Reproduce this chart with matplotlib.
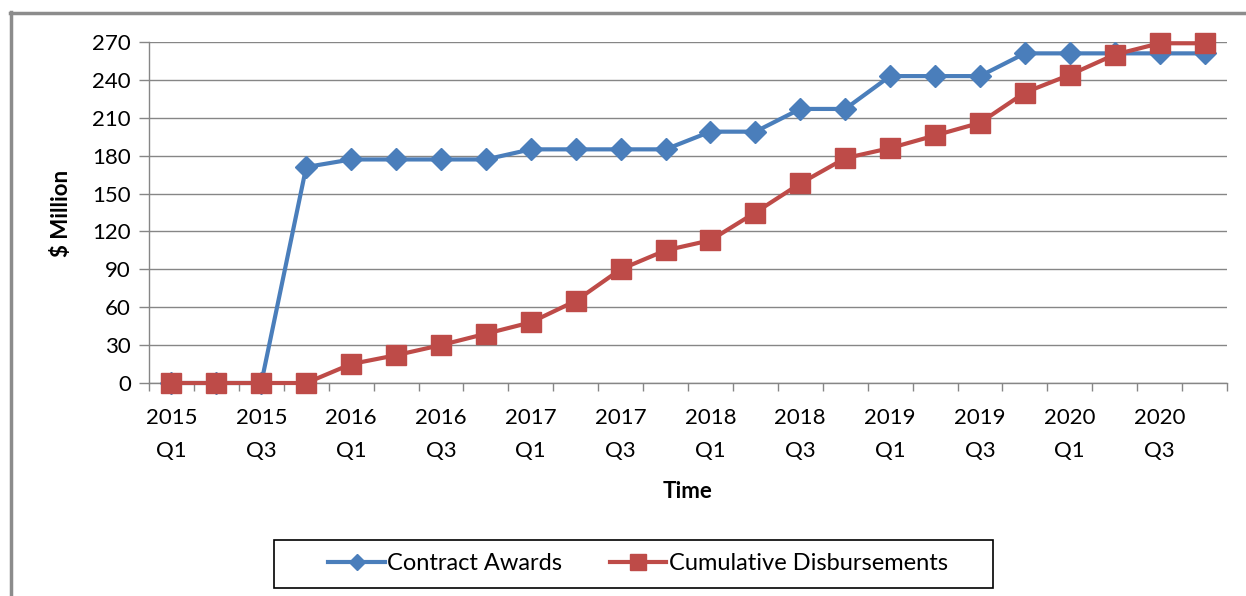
import matplotlib.pyplot as plt
import matplotlib.lines as mlines
import matplotlib.patches as mpatches
from matplotlib.ticker import FixedLocator, MultipleLocator

plt.rcParams['font.family'] = ['Lato', 'DejaVu Sans']

# quarters 2015 Q1 .. 2020 Q4
quarters = [f"{y}\nQ{q}" for y in range(2015, 2021) for q in range(1, 5)]

contract_awards = [0, 0, 0, 171,
                   177, 177, 177, 177,
                   185, 185, 185, 185,
                   199, 199, 217, 217,
                   243, 243, 243, 261,
                   261, 261, 261, 261]

cumulative_disbursements = [0, 0, 0, 0,
                            15, 22, 30, 39,
                            48, 65, 90, 105,
                            113, 135, 158, 178,
                            186, 196, 206, 230,
                            244, 260, 269, 269]

blue = '#4A7EBB'
red = '#BE4B48'
grid_grey = '#868686'
fs = 16
W, H = 1246, 596

fig = plt.figure(figsize=(W / 100, H / 100), dpi=100)
ax = fig.add_axes([149 / W, 1 - 383 / H, (1227 - 149) / W, (383 - 42) / H])

x = list(range(len(quarters)))
ax.plot(x, contract_awards, color=blue, lw=3, marker='D', ms=11,
        mfc=blue, mec=blue, zorder=3, clip_on=False)
ax.plot(x, cumulative_disbursements, color=red, lw=3, marker='s', ms=14.5,
        mfc=red, mec=red, zorder=4, clip_on=False)

ax.set_xlim(-0.5, len(quarters) - 0.5)
ax.set_ylim(0, 270)
ax.yaxis.set_major_locator(MultipleLocator(30))
ax.yaxis.grid(True, color=grid_grey, lw=1)
ax.set_axisbelow(True)

ax.set_xticks(x[::2])
ax.set_xticklabels(quarters[::2], fontsize=fs, linespacing=1.8)
ax.xaxis.set_minor_locator(FixedLocator([i - 0.5 for i in range(len(quarters) + 1)]))
ax.tick_params(axis='x', which='major', length=0, pad=18)
ax.tick_params(axis='x', which='minor', length=6, color=grid_grey, width=1)
ax.tick_params(axis='y', labelsize=fs, length=7, color=grid_grey, width=1, pad=6)

for s in ['top', 'right']:
    ax.spines[s].set_visible(False)
for s in ['left', 'bottom']:
    ax.spines[s].set_color(grid_grey)
    ax.spines[s].set_linewidth(1)

fig.text(688 / W, 1 - 492 / H, 'Time', fontsize=fs, fontweight='bold',
         ha='center', va='center')
fig.text(62 / W, 1 - 213 / H, '$ Million', fontsize=fs, fontweight='bold',
         rotation=90, ha='center', va='center')

# outer chart border (left and top only visible)
fig.add_artist(mlines.Line2D([10.5 / W, 10.5 / W], [0, 1 - 12 / H],
                             color='#8c8c8c', lw=2.5))
fig.add_artist(mlines.Line2D([10 / W, 1], [1 - 12.5 / H, 1 - 12.5 / H],
                             color='#8c8c8c', lw=2.5))

# legend box drawn separately (wider side padding than matplotlib allows)
fig.add_artist(mpatches.Rectangle((274 / W, 1 - 588 / H), (993 - 274) / W, 48 / H,
                                  transform=fig.transFigure, fill=False,
                                  edgecolor='black', lw=1.2))
h1 = mlines.Line2D([], [], color=blue, lw=3, marker='D', ms=8)
h2 = mlines.Line2D([], [], color=red, lw=3, marker='s', ms=11)
fig.legend([h1, h2], ['Contract Awards', 'Cumulative Disbursements'],
           loc='center', bbox_to_anchor=(638 / W, 1 - 564 / H),
           ncol=2, fontsize=fs + 1, frameon=False,
           handlelength=2.4, handletextpad=0.1,
           columnspacing=2.0, borderpad=0.45, borderaxespad=0)

fig.savefig('out.png', dpi=100)
